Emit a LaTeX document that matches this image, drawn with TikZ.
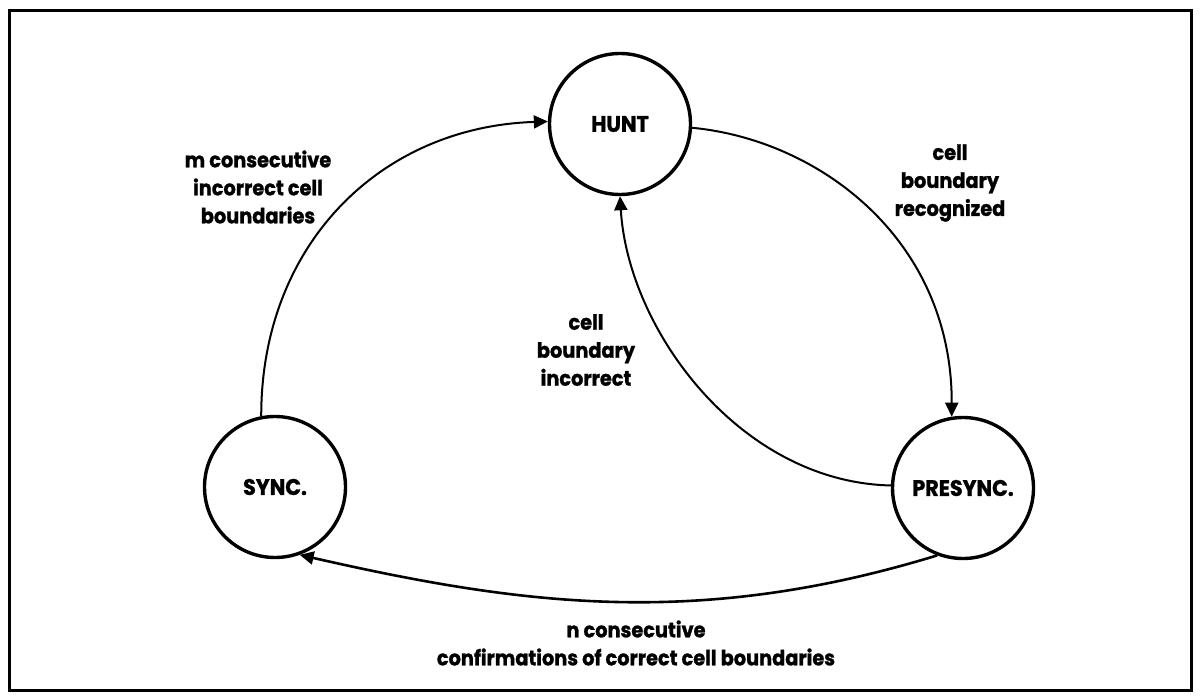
\documentclass[tikz,border=0pt]{standalone}
\usepackage{fontspec}
\setmainfont{Poppins}[FakeStretch=0.92,BoldFeatures={FakeBold=1.2}]
\usetikzlibrary{arrows.meta}
\newcommand\statefont{\fontsize{22.5}{26}\selectfont\bfseries}
\newcommand\lblfont{\fontsize{21}{28}\selectfont\bfseries}
\begin{document}
\begin{tikzpicture}[x=1pt,y=-1pt,
  state/.style={circle,draw,line width=3.4pt,minimum size=141pt,inner sep=0pt,font=\statefont},
  edge/.style={line width=2pt,-{Triangle[length=14pt,width=13pt]}},
  lbl/.style={align=center,font=\lblfont,inner sep=0pt}]
  \useasboundingbox (0,0) rectangle (1204,698);
  % outer frame
  \draw[line width=3pt] (9.5,10.5) rectangle (1191,690);

  % states
  \node[state] (hunt) at (620,124) {HUNT};
  \node[state] (sync) at (275,487) {SYNC.};
  \node[state] (presync) at (963,488) {PRESYNC.};

  % transitions
  \draw[edge] (sync.101) .. controls (261,246) and (379,127) .. (hunt.178);
  \draw[edge] (hunt.-3) .. controls (820,140) and (952,240) .. (presync.99);
  \draw[edge] (presync.178) .. controls (740,482) and (628,330) .. (hunt.270);
  \draw[edge,line width=2.6pt] (presync.249) .. controls (697,629) and (520,605) .. (sync.290);

  % transition labels
  \node[lbl] (lm) at (258,187) {m consecutive\\incorrect cell\\boundaries};
  \node[lbl] (lr) at (950,183) {cell\\boundary\\recognized};
  \node[lbl] (li) at (586,350) {cell\\boundary\\incorrect};
  \node[lbl] (ln) at (636,643) {n consecutive\\confirmations of correct cell boundaries};
\end{tikzpicture}
\end{document}
